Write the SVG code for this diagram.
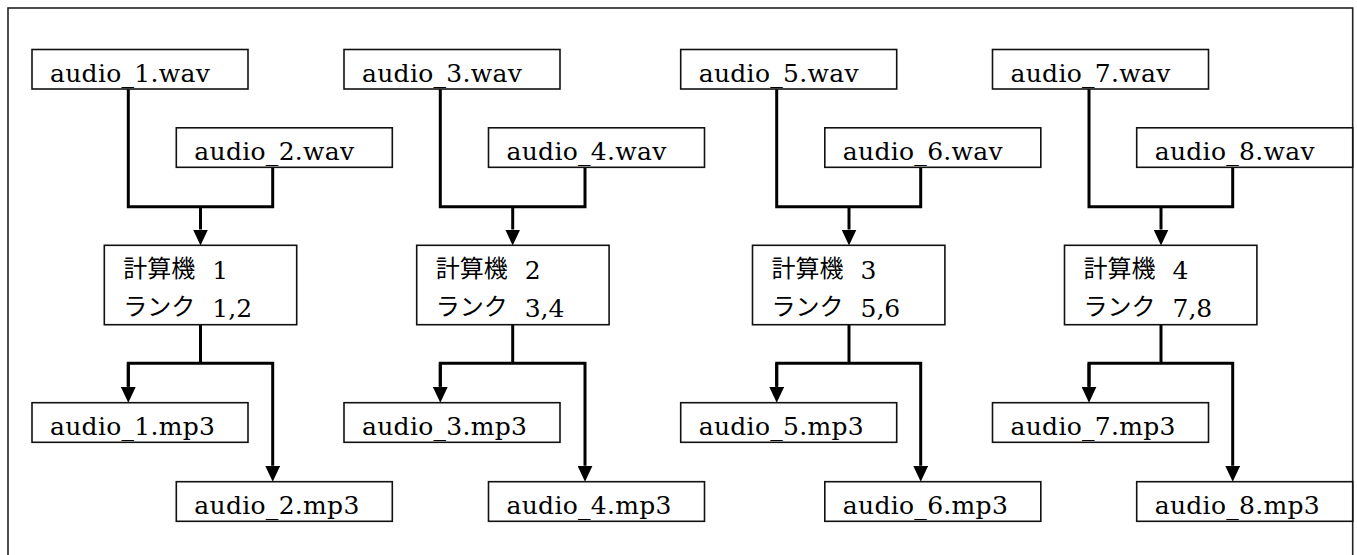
<svg xmlns="http://www.w3.org/2000/svg" width="1357" height="555" viewBox="0 0 1357 555">
  <style>
    .frame { fill: none; stroke: #222; stroke-width: 1.6; }
    .box { fill: #fff; stroke: #111; stroke-width: 1.6; }
    .lat { font-family: "DejaVu Serif", "Liberation Serif", serif; font-size: 25px; letter-spacing: 0.3px; fill: #000; }
    .jp { font-family: "Noto Sans CJK JP", sans-serif; font-size: 24px; fill: #000; }
    .num { font-family: "DejaVu Serif", "Liberation Serif", serif; font-size: 25px; fill: #000; }
    .wire { fill: none; stroke: #000; stroke-width: 3; stroke-linejoin: miter; stroke-linecap: butt; }
  </style>
  <defs>
    <marker id="arrow" markerUnits="userSpaceOnUse" markerWidth="16" markerHeight="15" refX="0" refY="7.5" orient="auto">
      <path d="M0,0 L16,7.5 L0,15 Z" fill="#000"/>
    </marker>
  </defs>

  <rect class="frame" x="8" y="8" width="1344.7" height="560"/>

  <!-- connectors -->
  <g id="connectors">
    <!-- group 1 -->
    <path class="wire" d="M128.3,89 V206.7 H272.7 V167.3"/>
    <path class="wire" d="M200.5,206.7 V229.5" marker-end="url(#arrow)"/>
    <path class="wire" d="M200.5,324.7 V363.3"/>
    <path class="wire" d="M128.3,386.7 V363.3 H272.7 V465.7" marker-end="url(#arrow)"/>
    <path class="wire" d="M128.3,363.3 V386.7" marker-end="url(#arrow)"/>
    <!-- group 2 -->
    <path class="wire" d="M440.3,89 V206.7 H585 V167.3"/>
    <path class="wire" d="M512.7,206.7 V229.5" marker-end="url(#arrow)"/>
    <path class="wire" d="M512.7,324.7 V363.3"/>
    <path class="wire" d="M440.3,386.7 V363.3 H585 V465.7" marker-end="url(#arrow)"/>
    <path class="wire" d="M440.3,363.3 V386.7" marker-end="url(#arrow)"/>
    <!-- group 3 -->
    <path class="wire" d="M776.7,89 V206.7 H920.7 V167.3"/>
    <path class="wire" d="M849,206.7 V229.5" marker-end="url(#arrow)"/>
    <path class="wire" d="M849,324.7 V363.3"/>
    <path class="wire" d="M776.7,386.7 V363.3 H920.7 V465.7" marker-end="url(#arrow)"/>
    <path class="wire" d="M776.7,363.3 V386.7" marker-end="url(#arrow)"/>
    <!-- group 4 -->
    <path class="wire" d="M1089,89 V206.7 H1232.7 V167.3"/>
    <path class="wire" d="M1161,206.7 V229.5" marker-end="url(#arrow)"/>
    <path class="wire" d="M1161,324.7 V363.3"/>
    <path class="wire" d="M1089,386.7 V363.3 H1232.7 V465.7" marker-end="url(#arrow)"/>
    <path class="wire" d="M1089,363.3 V386.7" marker-end="url(#arrow)"/>
  </g>

  <!-- input files -->
  <g id="audio_1_wav"><rect class="box" x="32" y="49.5" width="216" height="39.5"/><text class="lat" x="50" y="82">audio_1.wav</text></g>
  <g id="audio_2_wav"><rect class="box" x="176.3" y="127.8" width="216" height="39.5"/><text class="lat" x="194.3" y="160.3">audio_2.wav</text></g>
  <g id="audio_3_wav"><rect class="box" x="344" y="49.5" width="216" height="39.5"/><text class="lat" x="362" y="82">audio_3.wav</text></g>
  <g id="audio_4_wav"><rect class="box" x="488.5" y="127.8" width="216" height="39.5"/><text class="lat" x="506.5" y="160.3">audio_4.wav</text></g>
  <g id="audio_5_wav"><rect class="box" x="680.7" y="49.5" width="216" height="39.5"/><text class="lat" x="698.7" y="82">audio_5.wav</text></g>
  <g id="audio_6_wav"><rect class="box" x="824.8" y="127.8" width="216" height="39.5"/><text class="lat" x="842.8" y="160.3">audio_6.wav</text></g>
  <g id="audio_7_wav"><rect class="box" x="992.5" y="49.5" width="216" height="39.5"/><text class="lat" x="1010.5" y="82">audio_7.wav</text></g>
  <g id="audio_8_wav"><rect class="box" x="1136.7" y="127.8" width="216" height="39.5"/><text class="lat" x="1154.7" y="160.3">audio_8.wav</text></g>

  <!-- computers -->
  <g id="computer_1"><rect class="box" x="104.3" y="245.3" width="192.4" height="79.4"/>
    <text class="jp" x="123.3" y="277">計算機</text><text class="num" x="212.3" y="279">1</text>
    <text class="jp" x="123.3" y="315">ランク</text><text class="num" x="212.3" y="317">1,2</text></g>
  <g id="computer_2"><rect class="box" x="416.7" y="245.3" width="192.4" height="79.4"/>
    <text class="jp" x="435.7" y="277">計算機</text><text class="num" x="524.7" y="279">2</text>
    <text class="jp" x="435.7" y="315">ランク</text><text class="num" x="524.7" y="317">3,4</text></g>
  <g id="computer_3"><rect class="box" x="752.5" y="245.3" width="192.4" height="79.4"/>
    <text class="jp" x="771.5" y="277">計算機</text><text class="num" x="860.5" y="279">3</text>
    <text class="jp" x="771.5" y="315">ランク</text><text class="num" x="860.5" y="317">5,6</text></g>
  <g id="computer_4"><rect class="box" x="1064.5" y="245.3" width="192.4" height="79.4"/>
    <text class="jp" x="1083.5" y="277">計算機</text><text class="num" x="1172.5" y="279">4</text>
    <text class="jp" x="1083.5" y="315">ランク</text><text class="num" x="1172.5" y="317">7,8</text></g>

  <!-- output files -->
  <g id="audio_1_mp3"><rect class="box" x="32" y="402.7" width="216" height="39.6"/><text class="lat" x="50" y="435.2">audio_1.mp3</text></g>
  <g id="audio_2_mp3"><rect class="box" x="176.3" y="481.7" width="216" height="39.6"/><text class="lat" x="194.3" y="514.2">audio_2.mp3</text></g>
  <g id="audio_3_mp3"><rect class="box" x="344" y="402.7" width="216" height="39.6"/><text class="lat" x="362" y="435.2">audio_3.mp3</text></g>
  <g id="audio_4_mp3"><rect class="box" x="488.5" y="481.7" width="216" height="39.6"/><text class="lat" x="506.5" y="514.2">audio_4.mp3</text></g>
  <g id="audio_5_mp3"><rect class="box" x="680.7" y="402.7" width="216" height="39.6"/><text class="lat" x="698.7" y="435.2">audio_5.mp3</text></g>
  <g id="audio_6_mp3"><rect class="box" x="824.8" y="481.7" width="216" height="39.6"/><text class="lat" x="842.8" y="514.2">audio_6.mp3</text></g>
  <g id="audio_7_mp3"><rect class="box" x="992.5" y="402.7" width="216" height="39.6"/><text class="lat" x="1010.5" y="435.2">audio_7.mp3</text></g>
  <g id="audio_8_mp3"><rect class="box" x="1136.7" y="481.7" width="216" height="39.6"/><text class="lat" x="1154.7" y="514.2">audio_8.mp3</text></g>
</svg>
